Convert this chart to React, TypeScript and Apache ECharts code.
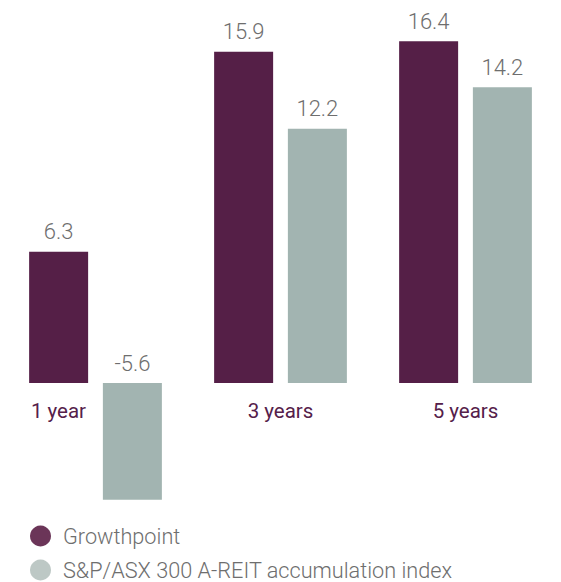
import React, { useEffect, useRef } from "react";
import * as echarts from "echarts";

const categories = ["1 year", "3 years", "5 years"];
const growthpoint = [6.3, 15.9, 16.4];
const indexReturns = [-5.6, 12.2, 14.2];
const seriesNames = ["Growthpoint", "S&P/ASX 300 A-REIT accumulation index"];

const Y_MIN = -6;
const Y_MAX = 18;
const GRID_TOP = 8;
const GRID_BOTTOM = 74;
const HEIGHT = 582;

export default function App() {
  const ref = useRef<HTMLDivElement>(null);
  useEffect(() => {
    document.body.style.margin = "0";
    const chart = echarts.init(ref.current!, null, { renderer: "svg" });
    const gridHeight = HEIGHT - GRID_TOP - GRID_BOTTOM;
    const zeroOffset = -((0 - Y_MIN) / (Y_MAX - Y_MIN)) * gridHeight;
    const valueLabel = {
      show: true,
      position: "top" as const,
      distance: 9,
      color: "#6e6e6e",
      fontSize: 22,
      fontFamily: "Roboto",
      fontWeight: 300 as any,
    };
    const catFont = {
      color: "#55204a",
      fontSize: 20.5,
      fontFamily: "Roboto",
    };
    chart.setOption({
      animation: false,
      grid: { left: 3, right: 3, top: GRID_TOP, bottom: GRID_BOTTOM, containLabel: false },
      xAxis: {
        type: "category",
        data: categories,
        offset: zeroOffset,
        axisLine: { show: false },
        axisTick: { show: false },
        axisLabel: {
          margin: 17,
          ...catFont,
          formatter: (v: string, i: number) =>
            i === 0 ? `{a|${v}}` : `{b|${v}}`,
          rich: {
            a: { padding: [0, 74, 0, 0], ...catFont },
            b: { ...catFont },
          },
        },
      },
      yAxis: {
        type: "value",
        min: Y_MIN,
        max: Y_MAX,
        show: false,
      },
      legend: {
        orient: "vertical",
        left: 30,
        top: 525,
        padding: 0,
        itemWidth: 21,
        itemHeight: 21,
        itemGap: 12,
        icon: "circle",
        textStyle: {
          color: "#6e6e6e",
          fontSize: 21.7,
          fontFamily: "Roboto",
          fontWeight: 300 as any,
          padding: [0, 0, 0, 7],
        },
        data: [
          { name: seriesNames[0], itemStyle: { color: "#6b3558" } },
          { name: seriesNames[1], itemStyle: { color: "#bdc8c5" } },
        ],
      },
      series: [
        {
          name: seriesNames[0],
          type: "bar",
          data: growthpoint,
          barWidth: 59,
          barGap: "25%",
          itemStyle: { color: "#551f47" },
          label: valueLabel,
        },
        {
          name: seriesNames[1],
          type: "bar",
          data: indexReturns,
          barWidth: 59,
          barGap: "25%",
          itemStyle: { color: "#a2b4b1" },
          label: valueLabel,
        },
      ],
    });
    return () => chart.dispose();
  }, []);
  return <div ref={ref} style={{ width: 561, height: 582 }} />;
}
